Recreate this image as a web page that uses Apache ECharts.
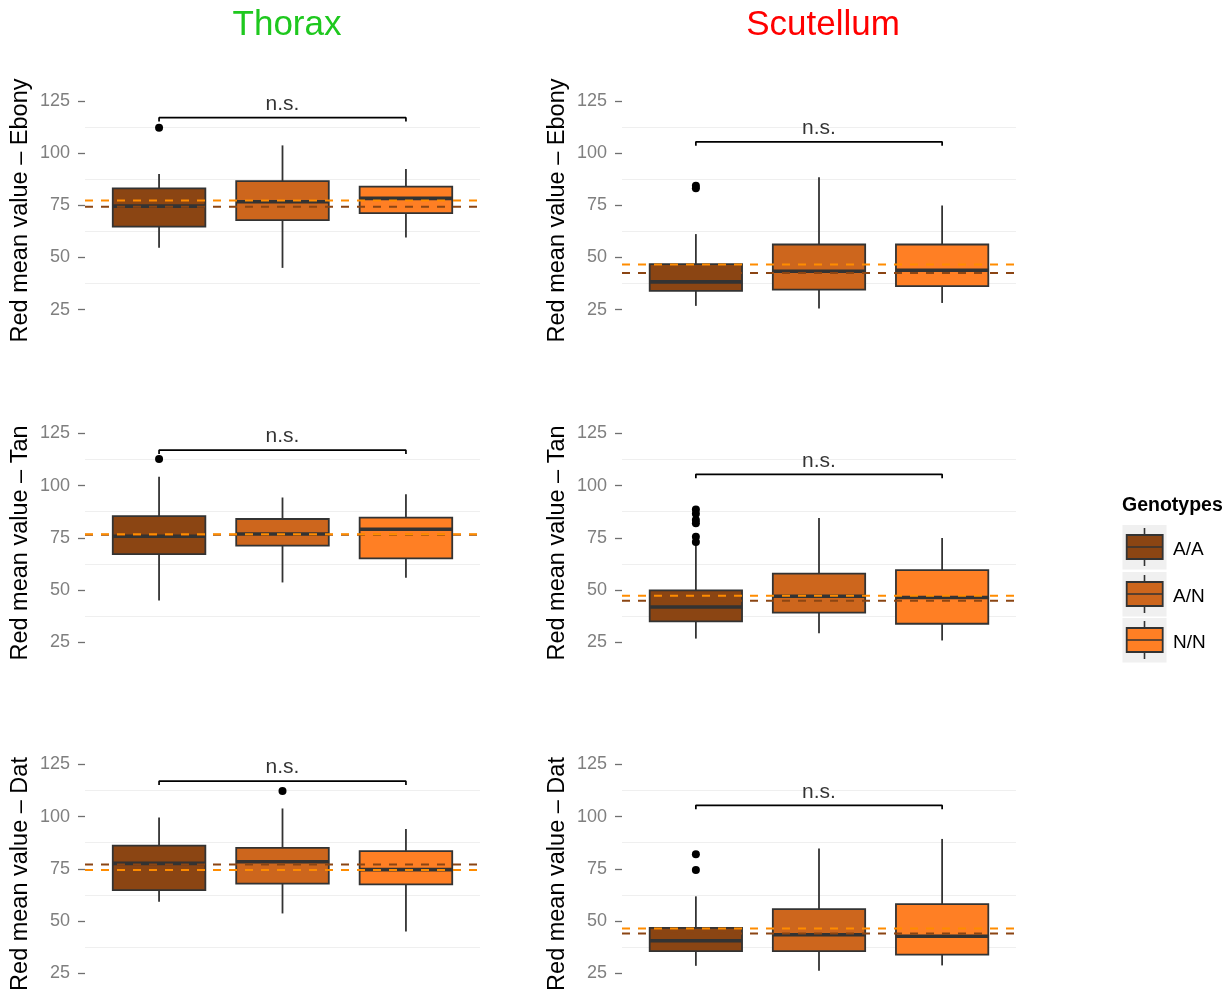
<!DOCTYPE html>
<html>
<head>
<meta charset="utf-8">
<script src="https://cdn.jsdelivr.net/npm/echarts@6/dist/echarts.min.js"></script>
<style>
  html, body { margin: 0; padding: 0; background: #fff; }
  #chart { width: 1231px; height: 996px; }
</style>
</head>
<body>
<div id="chart"></div>
<script>
// ---------------- DATA ----------------
const genotypes = ['A/A', 'A/N', 'N/N'];
const columnTitles = ['Thorax', 'Scutellum'];
const rowGenes = ['Ebony', 'Tan', 'Dat'];
const yTicks = [25, 50, 75, 100, 125];
const gridValues = [37.5, 62.5, 87.5, 112.5];
const bracketLabel = 'n.s.';

// box stats per genotype: [lower whisker, Q1, median, Q3, upper whisker]
const thoraxEbonyBoxes = [[54.6, 64.8, 74.6, 83.1, 90.0], [45.0, 67.9, 76.7, 86.6, 103.7], [59.6, 71.2, 78.3, 83.9, 92.4]];
const thoraxEbonyOutliers = [[112.2], [], []];
const thoraxEbonyMeans = [74.3, 77.3];      // A/A, N/N reference lines

const scutellumEbonyBoxes = [[26.8, 34.0, 38.3, 46.8, 61.2], [25.5, 34.6, 43.4, 56.2, 88.4], [28.2, 36.3, 43.9, 56.2, 74.9]];
const scutellumEbonyOutliers = [[84.4, 83.2], [], []];
const scutellumEbonyMeans = [42.6, 46.6];

const thoraxTanBoxes = [[45.0, 67.2, 75.7, 85.4, 104.2], [53.6, 71.2, 76.8, 84.0, 94.3], [55.9, 65.1, 79.1, 84.7, 95.9]];
const thoraxTanOutliers = [[112.7], [], []];
const thoraxTanMeans = [76.4, 76.7];

const scutellumTanBoxes = [[26.7, 34.9, 41.8, 49.8, 71.5], [29.3, 39.1, 47.0, 57.8, 84.5], [25.8, 33.8, 46.4, 59.5, 74.9]];
const scutellumTanOutliers = [[88.5, 86.5, 83.5, 82.0, 75.5, 73.0], [], []];
const scutellumTanMeans = [44.8, 47.2];

const thoraxDatBoxes = [[59.2, 64.8, 77.6, 86.1, 99.6], [53.6, 67.9, 78.4, 85.0, 103.9], [45.0, 67.5, 74.6, 83.5, 94.1]];
const thoraxDatOutliers = [[], [112.3], []];
const thoraxDatMeans = [77.0, 74.4];

const scutellumDatBoxes = [[28.5, 35.5, 40.5, 46.7, 61.8], [26.2, 35.5, 43.4, 55.7, 84.7], [28.7, 33.9, 42.7, 58.1, 89.3]];
const scutellumDatOutliers = [[82.0, 74.4], [], []];
const scutellumDatMeans = [44.0, 46.4];

const thoraxBracket = 117.0;
const scutellumBracket = 105.4;

// ---------------- STYLE ----------------
const FONT = "'Liberation Sans', Arial, Helvetica, sans-serif";
const boxColors = ['#8B4513', '#CD661D', '#FF7F24'];
const meanColors = ['#8B4513', '#FF8C00'];
const titleColors = ['#1EC81E', '#FF0000'];
const inkColor = '#333333';
const colLeft = [85, 622];
const colWidth = [395, 394];
const rowTop = [90.5, 423, 754];
const gridHeight = 240;

const panels = [
  [thoraxEbonyBoxes, thoraxEbonyOutliers, thoraxEbonyMeans, thoraxBracket],
  [scutellumEbonyBoxes, scutellumEbonyOutliers, scutellumEbonyMeans, scutellumBracket],
  [thoraxTanBoxes, thoraxTanOutliers, thoraxTanMeans, thoraxBracket],
  [scutellumTanBoxes, scutellumTanOutliers, scutellumTanMeans, scutellumBracket],
  [thoraxDatBoxes, thoraxDatOutliers, thoraxDatMeans, thoraxBracket],
  [scutellumDatBoxes, scutellumDatOutliers, scutellumDatMeans, scutellumBracket]
];

function renderBox(params, api) {
  const x = api.value(0);
  const half = 0.375;
  const lo = api.coord([x, api.value(1)]);
  const q1L = api.coord([x - half, api.value(2)]);
  const q3R = api.coord([x + half, api.value(4)]);
  const mL = api.coord([x - half, api.value(3)]);
  const mR = api.coord([x + half, api.value(3)]);
  const hi = api.coord([x, api.value(5)]);
  const color = api.visual('color');
  return {
    type: 'group',
    children: [
      { type: 'line', shape: { x1: lo[0], y1: lo[1], x2: lo[0], y2: q1L[1] }, style: { stroke: inkColor, lineWidth: 1.8 } },
      { type: 'line', shape: { x1: hi[0], y1: hi[1], x2: hi[0], y2: q3R[1] }, style: { stroke: inkColor, lineWidth: 1.8 } },
      { type: 'rect', shape: { x: q1L[0], y: q3R[1], width: q3R[0] - q1L[0], height: q1L[1] - q3R[1] },
        style: { fill: color, stroke: inkColor, lineWidth: 1.8 } },
      { type: 'line', shape: { x1: mL[0], y1: mL[1], x2: mR[0], y2: mR[1] }, style: { stroke: inkColor, lineWidth: 3.6 } }
    ]
  };
}

const grids = [], xAxes = [], yAxes = [], series = [];

panels.forEach((p, i) => {
  const row = Math.floor(i / 2), col = i % 2;
  const [boxes, outliers, means, bracket] = p;
  grids.push({ left: colLeft[col], top: rowTop[row], width: colWidth[col], height: gridHeight });
  xAxes.push({ gridIndex: i, type: 'value', min: 0.4, max: 3.6, show: false });
  yAxes.push({
    gridIndex: i, type: 'value', min: 15, max: 130,
    name: 'Red mean value \u2013 ' + rowGenes[row],
    nameLocation: 'middle', nameGap: 52,
    nameTextStyle: { fontFamily: FONT, fontSize: 23.5, color: '#000' },
    axisLine: { show: false },
    axisTick: { show: true, length: 7, customValues: yTicks, lineStyle: { color: '#6f6f6f', width: 1.3 } },
    axisLabel: { customValues: yTicks, color: '#7f7f7f', fontFamily: FONT, fontSize: 18, margin: 15 },
    splitLine: { show: false }
  });
  // faint minor gridlines (behind everything)
  series.push({
    type: 'line', xAxisIndex: i, yAxisIndex: i, data: [], silent: true, z: 0,
    markLine: {
      silent: true, symbol: 'none', label: { show: false }, animation: false, z: 0,
      lineStyle: { color: '#EFEFEF', width: 1.2, type: 'solid' },
      data: gridValues.map(v => ({ yAxis: v }))
    }
  });
  // boxes, one series per genotype
  genotypes.forEach((g, gi) => {
    series.push({
      type: 'custom', name: g, xAxisIndex: i, yAxisIndex: i, z: 2,
      itemStyle: { color: boxColors[gi] },
      renderItem: renderBox,
      encode: { x: 0, y: [1, 2, 3, 4, 5] },
      data: [[gi + 1].concat(boxes[gi])]
    });
  });
  // outliers
  const outData = [];
  outliers.forEach((vals, gi) => vals.forEach(v => outData.push([gi + 1, v])));
  series.push({
    type: 'scatter', xAxisIndex: i, yAxisIndex: i, z: 3, symbolSize: 8,
    itemStyle: { color: '#000', opacity: 1 }, data: outData, silent: true
  });
  // dashed reference lines (A/A then N/N)
  means.forEach((m, mi) => {
    series.push({
      type: 'line', xAxisIndex: i, yAxisIndex: i, z: 4, symbol: 'none', silent: true,
      lineStyle: { color: meanColors[mi], width: 2, type: [8, 8] },
      data: [[0.4, m], [3.6, m]]
    });
  });
  // significance bracket
  series.push({
    type: 'line', xAxisIndex: i, yAxisIndex: i, z: 4, symbol: 'none', silent: true,
    lineStyle: { color: '#000', width: 1.7 },
    data: [[1, bracket - 1.9], [1, bracket], [3, bracket], [3, bracket - 1.9]]
  });
  series.push({
    type: 'scatter', xAxisIndex: i, yAxisIndex: i, z: 4, symbolSize: 0, silent: true,
    data: [[2, bracket]],
    label: { show: true, position: 'top', distance: 3, formatter: bracketLabel,
      color: '#000', fontFamily: FONT, fontSize: 21 }
  });
});

// legend built from graphics
const legendChildren = [
  { type: 'text', x: 1122, y: 506, style: { text: 'Genotypes', fill: '#000', font: 'bold 19.5px ' + FONT, verticalAlign: 'middle', align: 'left' } }
];
const keyTops = [525, 572, 618];
genotypes.forEach((g, gi) => {
  const t = keyTops[gi];
  legendChildren.push(
    { type: 'rect', shape: { x: 1122.5, y: t, width: 44, height: 44.5 }, style: { fill: '#F0F0F0' } },
    { type: 'line', shape: { x1: 1144.5, y1: t + 3, x2: 1144.5, y2: t + 10 }, style: { stroke: inkColor, lineWidth: 1.6 } },
    { type: 'line', shape: { x1: 1144.5, y1: t + 34, x2: 1144.5, y2: t + 41 }, style: { stroke: inkColor, lineWidth: 1.6 } },
    { type: 'rect', shape: { x: 1126.7, y: t + 10, width: 36, height: 24 }, style: { fill: boxColors[gi], stroke: inkColor, lineWidth: 1.8 } },
    { type: 'line', shape: { x1: 1126.7, y1: t + 22, x2: 1162.7, y2: t + 22 }, style: { stroke: inkColor, lineWidth: 1.6 } },
    { type: 'text', x: 1173, y: t + 25, style: { text: g, fill: '#000', font: '19px ' + FONT, verticalAlign: 'middle', align: 'left' } }
  );
});

const graphics = [
  { type: 'text', x: 287, y: 25, style: { text: columnTitles[0], fill: titleColors[0], font: '35px ' + FONT, align: 'center', verticalAlign: 'middle' } },
  { type: 'text', x: 823, y: 25, style: { text: columnTitles[1], fill: titleColors[1], font: '35px ' + FONT, align: 'center', verticalAlign: 'middle' } },
  { type: 'group', children: legendChildren }
];

const chart = echarts.init(document.getElementById('chart'), null, { renderer: 'canvas' });
chart.setOption({
  animation: false,
  backgroundColor: '#fff',
  textStyle: { fontFamily: FONT },
  grid: grids,
  xAxis: xAxes,
  yAxis: yAxes,
  series: series,
  graphic: graphics
});
</script>
</body>
</html>
